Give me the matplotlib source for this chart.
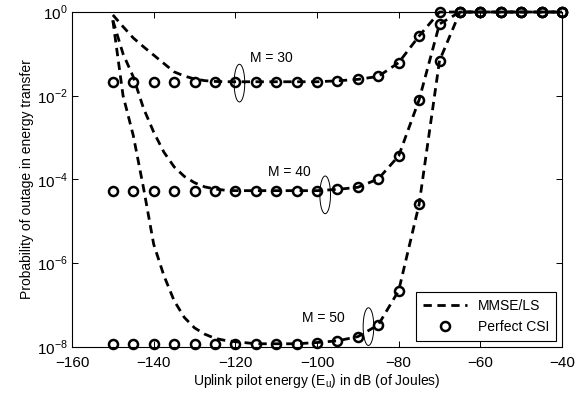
import numpy as np
import matplotlib
matplotlib.use('Agg')
import matplotlib.pyplot as plt

plt.rcParams['font.family'] = ['Liberation Sans', 'DejaVu Sans']
plt.rcParams['mathtext.fontset'] = 'custom'
plt.rcParams['mathtext.rm'] = 'Liberation Sans'

# ---- data (log10 of outage probability) ----
# perfect CSI markers, every 5 dB
x_csi = np.arange(-150, -39, 5)
csi_m30 = [-1.667] * 11 + [-1.645, -1.61, -1.54, -1.21, -0.574, 0, 0, 0, 0, 0, 0, 0]
csi_m40 = [-4.27] * 11 + [-4.24, -4.19, -3.99, -3.44, -2.10, -0.287, 0, 0, 0, 0, 0, 0]
csi_m50 = [-7.93] * 10 + [-7.9, -7.86, -7.76, -7.48, -6.66, -4.6, -1.163, 0, 0, 0, 0, 0, 0]

# MMSE/LS curves: finer steps where they drop, then the same 5 dB grid
x_mmse = list(np.arange(-150, -119, 2.5)) + list(np.arange(-115, -39, 5))
mmse_m30 = [-0.07, -0.35, -0.62, -0.83, -1.03, -1.23, -1.43, -1.53, -1.6, -1.64, -1.66, -1.665, -1.667] \
    + [-1.667] * 4 + [-1.645, -1.61, -1.54, -1.21, -0.574, 0, 0, 0, 0, 0, 0, 0]
mmse_m40 = [-0.2, -1.0, -1.55, -2.3, -2.87, -3.35, -3.7, -3.93, -4.08, -4.18, -4.23, -4.26, -4.27] \
    + [-4.27] * 4 + [-4.24, -4.19, -3.99, -3.44, -2.10, -0.287, 0, 0, 0, 0, 0, 0]
mmse_m50 = [-0.2, -2.0, -2.95, -4.2, -5.55, -6.3, -6.9, -7.3, -7.55, -7.7, -7.8, -7.85, -7.88] \
    + [-7.93] * 3 + [-7.9, -7.86, -7.76, -7.48, -6.66, -4.6, -1.163, 0, 0, 0, 0, 0, 0]

# annotations: label, text position, ellipse centre (dB, log10)
ann_labels = ['M = 30', 'M = 40', 'M = 50']
ann_text = [(-116.4, -1.1), (-111.9, -3.83), (-103.7, -7.32)]
ann_ell = [(-119.0, -1.70), (-98.0, -4.37), (-87.4, -7.52)]

fig = plt.figure(figsize=(5.85, 3.99), dpi=100)
ax = fig.add_axes([0.1231, 0.1311, 0.8376, 0.8388])

for i, ys in enumerate([csi_m30, csi_m40, csi_m50]):
    ax.plot(x_csi, 10.0 ** np.array(ys), linestyle='none', marker='o', ms=6.5,
            mfc='none', mec='k', mew=1.8, clip_on=False,
            label='Perfect CSI' if i == 0 else None, zorder=3)

for i, ys in enumerate([mmse_m30, mmse_m40, mmse_m50]):
    ax.plot(x_mmse, 10.0 ** np.array(ys), color='k', lw=2, linestyle=(0, (3, 2)),
            clip_on=False, label='MMSE/LS' if i == 0 else None, zorder=4)

# ellipses drawn through the axes scales
t = np.linspace(0, 2 * np.pi, 100)
for (lab, (tx, ty), (ex, ey)) in zip(ann_labels, ann_text, ann_ell):
    ax.plot(ex + 1.3 * np.cos(t), 10.0 ** (ey + 0.45 * np.sin(t)), color='k', lw=0.7)
    ax.text(tx, 10.0 ** ty, lab, fontsize=10, va='center', ha='left')

ax.set_yscale('log')
ax.set_xlim(-160, -40)
ax.set_ylim(1e-8, 1)
ax.set_xticks([-160, -140, -120, -100, -80, -60, -40])
ax.set_xticklabels(['\u2212160', '\u2212140', '\u2212120', '\u2212100', '\u221280', '\u221260', '\u221240'])
ax.set_yticks([1e-8, 1e-6, 1e-4, 1e-2, 1])
ax.set_yticklabels([r'$10^{-8}$', r'$10^{-6}$', r'$10^{-4}$', r'$10^{-2}$', r'$10^{0}$'])
ax.minorticks_off()
ax.tick_params(direction='in', length=4, width=0.7, top=True, right=True, labelsize=11)
ax.tick_params(axis='x', pad=7)
ax.tick_params(axis='y', pad=3)
for s in ax.spines.values():
    s.set_linewidth(0.8)

ax.set_xlabel(r'Uplink pilot energy (E$_\mathregular{u}$) in dB (of Joules)', fontsize=10, labelpad=1)
ax.set_ylabel('Probability of outage in energy transfer', fontsize=10, labelpad=2)

handles, labels = ax.get_legend_handles_labels()
leg = ax.legend(handles[::-1], labels[::-1], loc='lower right', fontsize=10,
                frameon=True, fancybox=False, edgecolor='k', framealpha=1,
                borderaxespad=0.4, handlelength=3.2, borderpad=0.5, labelspacing=0.5)
leg.get_frame().set_linewidth(0.8)

fig.savefig('out.png', dpi=100)
